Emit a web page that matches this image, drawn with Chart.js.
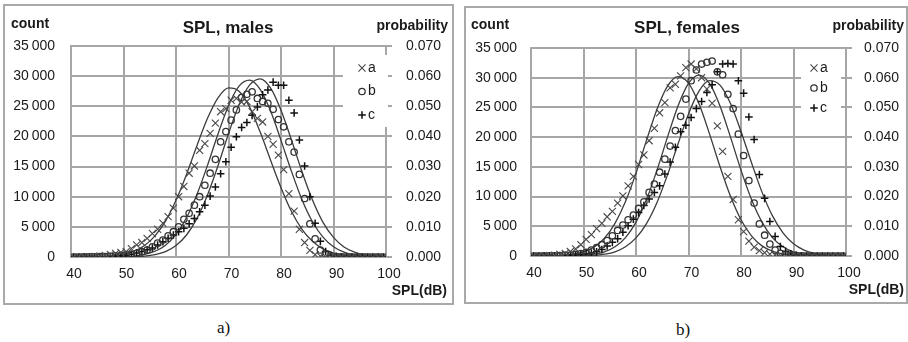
<!DOCTYPE html>
<html>
<head>
<meta charset="utf-8">
<script src="https://cdn.jsdelivr.net/npm/chart.js@4.4.1/dist/chart.umd.min.js"></script>
<style>
  body { margin:0; background:#fff; width:908px; height:342px; position:relative; overflow:hidden; }
  .frame { position:absolute; border:2px solid #a9a9a9; box-sizing:border-box; }
  canvas { position:absolute; top:0; }
  .cap { position:absolute; font-family:"Liberation Serif","DejaVu Serif",serif; font-size:17px; color:#111; }
</style>
</head>
<body>
<div class="frame" style="left:3px;top:4px;width:451px;height:301px"></div>
<div class="frame" style="left:464px;top:6px;width:444px;height:298px"></div>
<canvas id="males" width="454" height="310" style="left:0"></canvas>
<canvas id="females" width="454" height="310" style="left:454px"></canvas>
<div class="cap" style="left:217px;top:318px">a)</div>
<div class="cap" style="left:676px;top:320px">b)</div>
<script>
// bin centres (dB) for the counted data
const spl = [40.5, 41.5, 42.5, 43.5, 44.5, 45.5, 46.5, 47.5, 48.5, 49.5,
  50.5, 51.5, 52.5, 53.5, 54.5, 55.5, 56.5, 57.5, 58.5, 59.5,
  60.5, 61.5, 62.5, 63.5, 64.5, 65.5, 66.5, 67.5, 68.5, 69.5,
  70.5, 71.5, 72.5, 73.5, 74.5, 75.5, 76.5, 77.5, 78.5, 79.5,
  80.5, 81.5, 82.5, 83.5, 84.5, 85.5, 86.5, 87.5, 88.5, 89.5,
  90.5, 91.5, 92.5, 93.5, 94.5, 95.5, 96.5, 97.5, 98.5, 99.5];

// x positions for the fitted probability curves
const curveSpl = [40, 42, 44, 46, 48, 50, 52, 54, 56, 58, 60, 62, 64, 66, 68, 70,
  72, 74, 76, 78, 80, 82, 84, 86, 88, 90, 92, 94, 96, 98, 100];

const seriesNames = ['a', 'b', 'c'];

// males, counts
const malesA = [0, 10, 20, 40, 80, 140, 250, 400, 600, 750,
  900, 1400, 2000, 2400, 3100, 3900, 4600, 5600, 6700, 8100,
  10000, 11700, 13900, 15100, 17700, 18800, 20500, 22200, 24100, 24600,
  26000, 26300, 25700, 25800, 24100, 23000, 22400, 20000, 18700, 16900,
  14500, 10500, 7600, 4600, 2400, 1100, 400, 150, 60, 20,
  0, 0, 0, 0, 0, 0, 0, 0, 0, 0];
const malesB = [0, 0, 10, 20, 30, 50, 80, 120, 180, 260,
  350, 460, 600, 880, 1160, 1700, 2300, 2800, 3500, 4200,
  5000, 6250, 7250, 8600, 10000, 11900, 13900, 16200, 19100, 20800,
  22700, 24400, 26500, 27000, 27400, 26300, 25800, 25500, 24500, 22800,
  21600, 19100, 17400, 13700, 9700, 5500, 3000, 1160, 450, 150,
  50, 20, 0, 0, 0, 0, 0, 0, 0, 0];
const malesC = [0, 0, 0, 10, 20, 30, 50, 80, 120, 200,
  300, 450, 650, 900, 1200, 1500, 2000, 2550, 3100, 3650,
  4200, 4750, 5500, 6400, 7500, 8600, 10100, 11600, 13800, 15800,
  18200, 19950, 21500, 22300, 23500, 24900, 26900, 27700, 29000, 28500,
  28500, 26000, 23900, 19400, 15100, 10000, 5600, 2600, 900, 300,
  100, 30, 0, 0, 0, 0, 0, 0, 0, 0];

// males, fitted probability
const malesFitA = [0, 0, 0.0001, 0.0002, 0.0004, 0.0009, 0.0019, 0.0038, 0.0070, 0.0119, 0.0188,
  0.0274, 0.0370, 0.0460, 0.0528, 0.0561, 0.0550, 0.0498, 0.0416, 0.0322, 0.0230,
  0.0151, 0.0092, 0.0052, 0.0027, 0.0013, 0.0006, 0.0002, 0.0001, 0, 0];
const malesFitB = [0, 0, 0, 0, 0, 0.0001, 0.0003, 0.0009, 0.0019, 0.0039, 0.0075,
  0.0130, 0.0208, 0.0304, 0.0408, 0.0502, 0.0567, 0.0587, 0.0557, 0.0485, 0.0387,
  0.0284, 0.0190, 0.0117, 0.0066, 0.0034, 0.0016, 0.0007, 0.0003, 0.0001, 0];
const malesFitC = [0, 0, 0, 0, 0, 0, 0.0001, 0.0003, 0.0008, 0.0018, 0.0038,
  0.0073, 0.0128, 0.0206, 0.0303, 0.0409, 0.0505, 0.0570, 0.0591, 0.0561, 0.0487,
  0.0388, 0.0283, 0.0189, 0.0115, 0.0065, 0.0033, 0.0016, 0.0007, 0.0003, 0.0001];

// females, counts
const femalesA = [0, 10, 30, 60, 150, 250, 450, 750, 1200, 1900,
  2800, 3600, 4600, 5500, 6600, 7500, 8900, 10100, 11800, 13400,
  15400, 17000, 19400, 21500, 24100, 25800, 28300, 28900, 30300, 31700,
  32300, 31500, 30000, 28100, 25700, 21900, 17600, 13400, 9500, 6100,
  4100, 2500, 1500, 900, 550, 300, 150, 80, 40, 10,
  0, 0, 0, 0, 0, 0, 0, 0, 0, 0];
const femalesB = [0, 0, 10, 20, 40, 70, 110, 170, 260, 400,
  600, 1000, 1400, 1900, 2600, 3400, 4300, 5200, 6100, 6900,
  8000, 9100, 10700, 12100, 14100, 16300, 18500, 21100, 23500, 26400,
  29500, 31300, 32300, 32600, 32800, 31000, 30500, 27200, 24800, 20500,
  16900, 12700, 8900, 5400, 3500, 2000, 1000, 450, 200, 100,
  50, 20, 0, 0, 0, 0, 0, 0, 0, 0];
const femalesC = [0, 0, 0, 10, 20, 40, 60, 100, 160, 250,
  350, 500, 700, 1100, 1700, 2300, 2900, 4000, 5100, 6200,
  7300, 8500, 9600, 10700, 11800, 13800, 15800, 18300, 20900, 22000,
  23300, 24800, 26000, 27500, 28800, 31000, 32300, 32400, 32300, 29500,
  27400, 23400, 19600, 13700, 9700, 5800, 3300, 1600, 800, 350,
  150, 50, 0, 0, 0, 0, 0, 0, 0, 0];

// females, fitted probability
const femalesFitA = [0, 0, 0.0001, 0.0002, 0.0006, 0.0014, 0.0030, 0.0060, 0.0110, 0.0183, 0.0279,
  0.0389, 0.0494, 0.0572, 0.0604, 0.0582, 0.0512, 0.0411, 0.0301, 0.0201, 0.0122,
  0.0068, 0.0034, 0.0016, 0.0007, 0.0003, 0.0001, 0, 0, 0, 0];
const femalesFitB = [0, 0, 0, 0, 0.0001, 0.0002, 0.0006, 0.0014, 0.0031, 0.0062, 0.0114,
  0.0190, 0.0289, 0.0400, 0.0505, 0.0581, 0.0609, 0.0581, 0.0505, 0.0400, 0.0289,
  0.0190, 0.0114, 0.0062, 0.0031, 0.0014, 0.0006, 0.0002, 0.0001, 0, 0];
const femalesFitC = [0, 0, 0, 0, 0, 0.0001, 0.0002, 0.0006, 0.0014, 0.0031, 0.0061,
  0.0109, 0.0180, 0.0273, 0.0377, 0.0478, 0.0555, 0.0590, 0.0575, 0.0513, 0.0419,
  0.0314, 0.0215, 0.0135, 0.0078, 0.0041, 0.0020, 0.0009, 0.0004, 0.0001, 0];

const FONT = '"Liberation Sans", Arial, sans-serif';
const GRID = '#a6a6a6';
Chart.defaults.font.family = FONT;
Chart.defaults.font.size = 14;
Chart.defaults.color = '#1a1a1a';

const markers = [
  { style: 'crossRot', radius: 5, color: '#484848', width: 1.1 },
  { style: 'circle', radius: 3.2, color: '#333', width: 1.3 },
  { style: 'cross', radius: 3.8, color: '#111', width: 1.5 }
];

function fmtCount(v) {
  return String(v).replace(/\B(?=(\d{3})+(?!\d))/g, '\u2009');
}

function drawMarker(c, m, x, y) {
  const r = m.radius;
  c.strokeStyle = m.color;
  c.lineWidth = m.width;
  c.beginPath();
  if (m.style === 'circle') {
    c.arc(x, y, r, 0, Math.PI * 2);
  } else if (m.style === 'cross') {
    c.moveTo(x - r, y); c.lineTo(x + r, y);
    c.moveTo(x, y - r); c.lineTo(x, y + r);
  } else {
    const d = r * 0.707;
    c.moveTo(x - d, y - d); c.lineTo(x + d, y + d);
    c.moveTo(x - d, y + d); c.lineTo(x + d, y - d);
  }
  c.stroke();
}

function decor(p) {
  return {
    id: 'decor',
    afterDraw(chart) {
      const c = chart.ctx;
      c.save();
      c.fillStyle = '#1a1a1a';
      c.textBaseline = 'middle';
      c.font = 'bold 14px ' + FONT;
      c.textAlign = 'left';
      c.fillText('count', p.countX, p.countY);
      c.textAlign = 'right';
      c.fillText('probability', p.probX, p.probY);
      c.fillText('SPL(dB)', p.splX, p.splY);
      c.font = 'bold 17px ' + FONT;
      c.textAlign = 'center';
      c.fillText(p.title, p.titleX, p.titleY);
      // legend box inside the plot
      c.fillStyle = '#fff';
      c.fillRect(p.legX, p.legY, p.legW, p.legH);
      c.font = '14px ' + FONT;
      c.textAlign = 'left';
      seriesNames.forEach((name, i) => {
        const y = p.legFirst + i * p.legStep;
        drawMarker(c, markers[i], p.legMarkX, y);
        c.fillStyle = '#1a1a1a';
        c.fillText(name, p.legMarkX + 6, y);
      });
      c.restore();
    }
  };
}

function makeChart(id, counts, fits, p) {
  const datasets = [];
  counts.forEach((arr, i) => {
    const m = markers[i];
    datasets.push({
      type: 'scatter',
      label: seriesNames[i],
      data: spl.map((x, k) => ({ x: x, y: arr[k] })),
      yAxisID: 'y',
      pointStyle: m.style,
      pointRadius: m.radius,
      pointBorderWidth: m.width,
      borderColor: m.color,
      backgroundColor: 'rgba(0,0,0,0)'
    });
  });
  fits.forEach((arr, i) => {
    datasets.push({
      type: 'line',
      label: 'fit ' + seriesNames[i],
      data: curveSpl.map((x, k) => ({ x: x, y: arr[k] })),
      yAxisID: 'y1',
      borderColor: '#3c3c3c',
      borderWidth: 1.3,
      pointRadius: 0,
      cubicInterpolationMode: 'monotone',
      fill: false
    });
  });

  return new Chart(document.getElementById(id), {
    type: 'scatter',
    data: { datasets: datasets },
    options: {
      responsive: false,
      animation: false,
      layout: { padding: { left: 0, right: 0, top: p.top, bottom: 0 } },
      plugins: { legend: { display: false }, tooltip: { enabled: false }, title: { display: false } },
      scales: {
        x: {
          type: 'linear', min: 40, max: 100,
          ticks: { stepSize: 10, padding: 9, labelOffset: 3, color: '#1a1a1a' },
          grid: { color: GRID, lineWidth: 2, drawTicks: false },
          border: { color: GRID, width: 2 },
          afterFit(s) { s.height = p.xHeight; }
        },
        y: {
          position: 'left', min: 0, max: 35000,
          ticks: { stepSize: 5000, padding: p.yPad, callback: v => fmtCount(v), color: '#1a1a1a' },
          grid: { color: GRID, lineWidth: 2, drawTicks: false },
          border: { color: GRID, width: 2 },
          afterFit(s) { s.width = p.yWidth; }
        },
        y1: {
          position: 'right', min: 0, max: 0.07,
          ticks: { stepSize: 0.01, padding: p.y1Pad, callback: v => v.toFixed(3), color: '#1a1a1a' },
          grid: { color: GRID, lineWidth: 2, drawOnChartArea: false, drawTicks: true, tickLength: 6 },
          border: { color: GRID, width: 2 },
          afterFit(s) { s.width = p.y1Width; }
        }
      }
    },
    plugins: [decor(p)]
  });
}

makeChart('males', [malesA, malesB, malesC], [malesFitA, malesFitB, malesFitC], {
  title: 'SPL, males', titleX: 228, titleY: 28,
  countX: 11, countY: 24, probX: 448, probY: 26, splX: 447, splY: 291,
  top: 46, xHeight: 53, yWidth: 71, y1Width: 68, yPad: 16, y1Pad: 14,
  legX: 343, legY: 55, legW: 45, legH: 72, legMarkX: 362, legFirst: 68, legStep: 23.5
});

makeChart('females', [femalesA, femalesB, femalesC], [femalesFitA, femalesFitB, femalesFitC], {
  title: 'SPL, females', titleX: 233, titleY: 28,
  countX: 17, countY: 25, probX: 450, probY: 26, splX: 450, splY: 290,
  top: 48, xHeight: 54, yWidth: 77, y1Width: 62, yPad: 14, y1Pad: 12,
  legX: 347, legY: 58, legW: 40, legH: 62, legMarkX: 360, legFirst: 68, legStep: 20
});
</script>
</body>
</html>
